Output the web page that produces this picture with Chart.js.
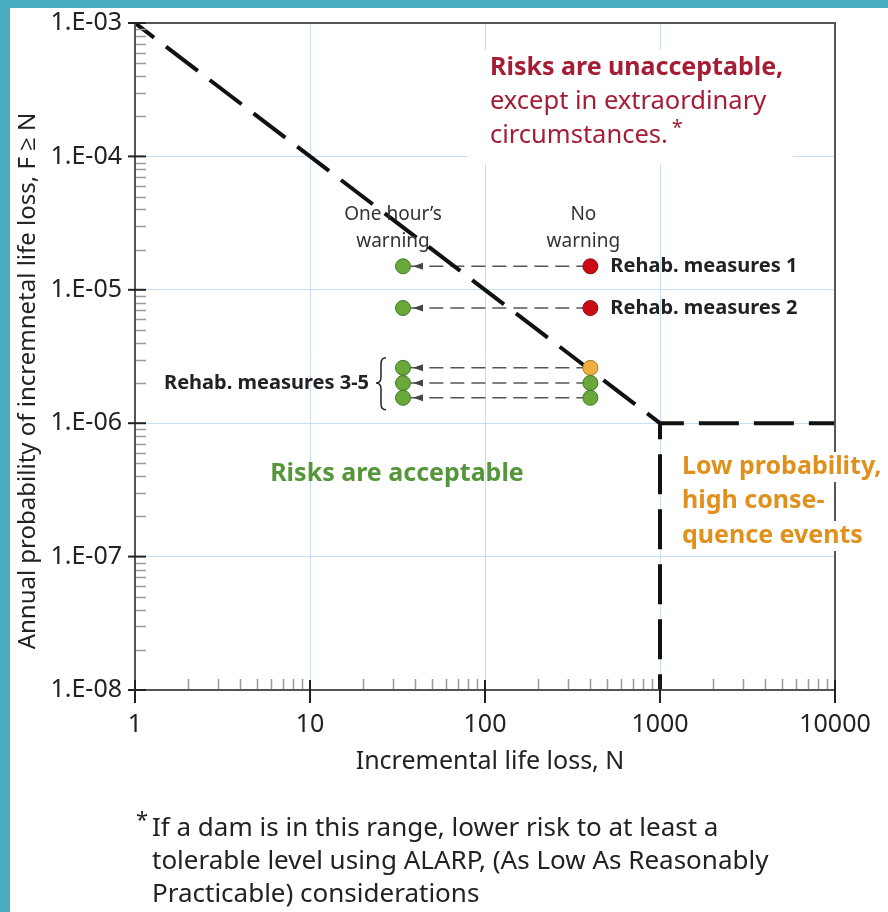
<!DOCTYPE html>
<html>
<head>
<meta charset="utf-8">
<script src="https://cdn.jsdelivr.net/npm/chart.js@4.4.0/dist/chart.umd.min.js"></script>
<style>
html, body { margin: 0; padding: 0; background: #fff; }
#wrap { width: 888px; height: 912px; }
</style>
</head>
<body>
<div id="wrap"><canvas id="fn-chart" width="888" height="912"></canvas></div>
<script>
// axis ticks
const xTicks = [1, 10, 100, 1000, 10000];
const xTickLabels = ["1", "10", "100", "1000", "10000"];
const yTicks = [1e-3, 1e-4, 1e-5, 1e-6, 1e-7, 1e-8];
const yTickLabels = ["1.E-03", "1.E-04", "1.E-05", "1.E-06", "1.E-07", "1.E-08"];

// tolerability limit (dashed)
const limitN = [1, 1000, 10000];
const limitF = [1e-3, 1e-6, 1e-6];
const lowProbN = [1000, 1000];
const lowProbF = [1e-6, 1e-8];

// rehab measures
const measureNames = ["Rehab. measures 1", "Rehab. measures 2", "Rehab. measures 3", "Rehab. measures 4", "Rehab. measures 5"];
const noWarningN = [400, 400, 400, 400, 400];
const oneHourN = [34, 34, 34, 34, 34];
const measureF = [1.5e-5, 7.3e-6, 2.6e-6, 2.0e-6, 1.55e-6];
const noWarningColors = ["#cc0a14", "#cc0a14", "#f0b040", "#6aa83a", "#6aa83a"];
const noWarningBorders = ["#8a0a10", "#8a0a10", "#b07a20", "#3f7a28", "#3f7a28"];

const FONT = "'Noto Sans', 'Open Sans', sans-serif";
const GREEN = "#6aa83a";

function toPts(xs, ys) {
    return xs.map((v, i) => ({ x: v, y: ys[i] }));
}

const arrowSets = measureNames.map((name, i) => ({
    type: "line",
    label: name,
    data: [{ x: noWarningN[i], y: measureF[i] }, { x: oneHourN[i], y: measureF[i] }],
    borderColor: "#555",
    borderWidth: 1.5,
    borderDash: [14, 7],
    pointRadius: 0,
    order: 3,
}));

const decorPlugin = {
    id: "decor",
    beforeDraw(chart) {
        const ctx = chart.ctx;
        ctx.save();
        ctx.fillStyle = "#fff";
        ctx.fillRect(0, 0, chart.width, chart.height);
        ctx.fillStyle = "#4aacbf";
        ctx.fillRect(0, 0, 10, chart.height);
        ctx.fillRect(0, 0, chart.width, 8);
        ctx.restore();
    },
    afterDraw(chart) {
        const { ctx, chartArea: a, scales: { x, y } } = chart;
        ctx.save();

        // minor ticks
        ctx.strokeStyle = "#9a9a9a";
        ctx.lineWidth = 1.5;
        for (let d = 1e-8; d < 1e-3 * 0.99; d *= 10) {
            for (let k = 2; k <= 9; k++) {
                const py = Math.round(y.getPixelForValue(d * k)) + 0.5;
                ctx.beginPath();
                ctx.moveTo(a.left, py);
                ctx.lineTo(a.left + 11, py);
                ctx.stroke();
            }
        }
        for (let d = 1; d < 10000; d *= 10) {
            for (let k = 2; k <= 9; k++) {
                const px = Math.round(x.getPixelForValue(d * k)) + 0.5;
                ctx.beginPath();
                ctx.moveTo(px, a.bottom);
                ctx.lineTo(px, a.bottom - 11);
                ctx.stroke();
            }
        }

        // frame
        ctx.strokeStyle = "#555";
        ctx.lineWidth = 2;
        ctx.beginPath();
        ctx.moveTo(a.left, a.bottom + 13);
        ctx.lineTo(a.left, a.top);
        ctx.lineTo(a.right, a.top);
        ctx.lineTo(a.right, a.bottom + 13);
        ctx.moveTo(a.left, a.bottom);
        ctx.lineTo(a.right, a.bottom);
        ctx.stroke();

        // major ticks
        ctx.strokeStyle = "#222";
        ctx.lineWidth = 2;
        yTicks.forEach(v => {
            const py = y.getPixelForValue(v);
            ctx.beginPath();
            ctx.moveTo(a.left - 7, py);
            ctx.lineTo(a.left + 11, py);
            ctx.stroke();
        });
        xTicks.forEach(v => {
            const px = x.getPixelForValue(v);
            ctx.beginPath();
            ctx.moveTo(px, a.bottom - 10);
            ctx.lineTo(px, a.bottom + 13);
            ctx.stroke();
        });

        // arrowheads
        ctx.fillStyle = "#444";
        measureF.forEach((f, i) => {
            const tx = x.getPixelForValue(oneHourN[i]) + 10;
            const ty = y.getPixelForValue(f);
            ctx.beginPath();
            ctx.moveTo(tx, ty);
            ctx.lineTo(tx + 10, ty - 3.5);
            ctx.lineTo(tx + 10, ty + 3.5);
            ctx.closePath();
            ctx.fill();
        });

        ctx.textBaseline = "middle";

        // axis titles
        ctx.fillStyle = "#222";
        ctx.font = `25px ${FONT}`;
        ctx.textAlign = "center";
        ctx.fillText("Incremental life loss, N", 490, 762);
        ctx.font = `24px ${FONT}`;
        ctx.save();
        ctx.translate(28, 381);
        ctx.rotate(-Math.PI / 2);
        ctx.fillText("Annual probability of incremnetal life loss, F \u2265 N", 0, 0);
        ctx.restore();

        // unacceptable region label
        const redX = 490;
        ctx.fillStyle = "#fff";
        ctx.fillRect(467, 50, 326, 114);
        ctx.fillStyle = "#a51d35";
        ctx.textAlign = "left";
        ctx.font = `bold 25px ${FONT}`;
        ctx.fillText("Risks are unacceptable,", redX, 68);
        ctx.font = `25.5px ${FONT}`;
        ctx.fillText("except in extraordinary", redX, 102);
        ctx.fillText("circumstances.", redX, 136);
        const cw = ctx.measureText("circumstances.").width;
        ctx.font = `20px ${FONT}`;
        ctx.fillText("*", redX + cw + 4, 128);

        // warning headers
        ctx.fillStyle = "#333";
        ctx.font = `19px ${FONT}`;
        ctx.textAlign = "center";
        const ohx = x.getPixelForValue(oneHourN[0]) - 10;
        const nwx = x.getPixelForValue(noWarningN[0]) - 7;
        ctx.fillText("One hour\u2019s", ohx, 215);
        ctx.fillText("warning", ohx, 242);
        ctx.fillText("No", nwx, 215);
        ctx.fillText("warning", nwx, 242);

        // measure labels
        ctx.fillStyle = "#222";
        ctx.font = `bold 20px ${FONT}`;
        ctx.textAlign = "left";
        const lx = x.getPixelForValue(noWarningN[0]) + 20;
        ctx.fillText(measureNames[0], lx, y.getPixelForValue(measureF[0]));
        ctx.fillText(measureNames[1], lx, y.getPixelForValue(measureF[1]));
        ctx.textAlign = "right";
        const gy = y.getPixelForValue(measureF[3]);
        ctx.fillText("Rehab. measures 3-5", 369, gy);

        // brace
        const bx = 381, bt = y.getPixelForValue(measureF[2]) - 10, bb = y.getPixelForValue(measureF[4]) + 12;
        ctx.strokeStyle = "#222";
        ctx.lineWidth = 1.5;
        ctx.beginPath();
        ctx.moveTo(bx + 5, bt);
        ctx.quadraticCurveTo(bx, bt, bx, bt + 6);
        ctx.lineTo(bx, gy - 6);
        ctx.quadraticCurveTo(bx, gy, bx - 5, gy);
        ctx.quadraticCurveTo(bx, gy, bx, gy + 6);
        ctx.lineTo(bx, bb - 6);
        ctx.quadraticCurveTo(bx, bb, bx + 5, bb);
        ctx.stroke();

        // acceptable region
        ctx.fillStyle = "#56963a";
        ctx.font = `bold 25px ${FONT}`;
        ctx.textAlign = "center";
        ctx.fillText("Risks are acceptable", 397, 474);

        // low probability label
        const orangeLines = ["Low probability,", "high conse-", "quence events"];
        const oy = [467, 501, 536];
        ctx.textAlign = "left";
        ctx.font = `bold 25px ${FONT}`;
        orangeLines.forEach((t, i) => {
            const w = ctx.measureText(t).width;
            ctx.fillStyle = "#fff";
            ctx.fillRect(680, oy[i] - 15, w + 4, 30);
            ctx.fillStyle = "#e0901c";
            ctx.fillText(t, 682, oy[i]);
        });

        // footnote
        ctx.fillStyle = "#222";
        ctx.font = `22px ${FONT}`;
        ctx.fillText("*", 136, 821);
        ctx.font = `26px ${FONT}`;
        ctx.fillText("If a dam is in this range, lower risk to at least a", 152, 829);
        ctx.fillText("tolerable level using ALARP, (As Low As Reasonably", 152, 862);
        ctx.fillText("Practicable) considerations", 152, 895);

        ctx.restore();
    },
};

const config = {
    type: "scatter",
    data: {
        datasets: [
            {
                label: "One hour's warning",
                data: toPts(oneHourN, measureF),
                backgroundColor: GREEN,
                borderColor: "#3f7a28",
                borderWidth: 1,
                pointRadius: 7.5,
                order: 0,
            },
            {
                label: "No warning",
                data: toPts(noWarningN, measureF),
                backgroundColor: noWarningColors,
                borderColor: noWarningBorders,
                borderWidth: 1,
                pointRadius: 7.5,
                order: 0,
            },
            {
                type: "line",
                label: "Limit",
                data: toPts(limitN, limitF),
                borderColor: "#111",
                borderWidth: 4,
                borderDash: [40, 15],
                borderDashOffset: 16,
                pointRadius: 0,
                order: 1,
            },
            {
                type: "line",
                label: "Low probability limit",
                data: toPts(lowProbN, lowProbF),
                borderColor: "#111",
                borderWidth: 4,
                borderDash: [40, 15],
                borderDashOffset: 24,
                pointRadius: 0,
                order: 1,
            },
            ...arrowSets,
        ],
    },
    options: {
        responsive: false,
        animation: false,
        layout: { padding: { left: 0, right: 53, top: 23, bottom: 162 } },
        plugins: {
            legend: { display: false },
            tooltip: { enabled: false },
        },
        scales: {
            x: {
                type: "logarithmic",
                min: 1,
                max: 10000,
                afterBuildTicks: s => { s.ticks = xTicks.map(v => ({ value: v })); },
                afterFit: s => {
                    s.height = 60;
                    s.paddingLeft = 0;
                    s.paddingRight = 0;
                },
                grid: { color: "#c8def3", lineWidth: 1, drawTicks: false },
                border: { display: false },
                ticks: {
                    autoSkip: false,
                    maxRotation: 0,
                    padding: 20,
                    color: "#222",
                    font: { family: FONT, size: 25 },
                    callback: (v, i) => xTickLabels[i],
                },
            },
            y: {
                type: "logarithmic",
                min: 1e-8,
                max: 1e-3,
                afterBuildTicks: s => { s.ticks = yTicks.map(v => ({ value: v })); },
                afterFit: s => {
                    s.width = 135;
                    s.paddingTop = 0;
                    s.paddingBottom = 0;
                },
                grid: { color: "#c8def3", lineWidth: 1, drawTicks: false },
                border: { display: false },
                ticks: {
                    padding: 13,
                    color: "#222",
                    font: { family: FONT, size: 25 },
                    callback: (v, i) => yTickLabels[i],
                },
            },
        },
    },
    plugins: [decorPlugin],
};

const canvas = document.getElementById("fn-chart");
canvas.chart = new Chart(canvas, config);
</script>
</body>
</html>
